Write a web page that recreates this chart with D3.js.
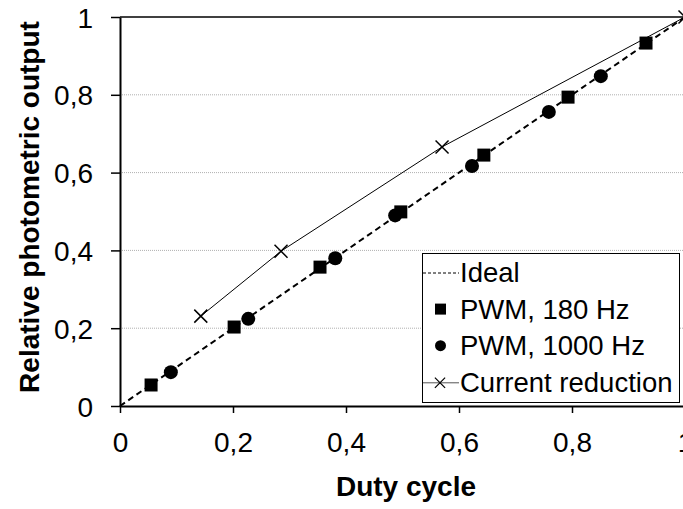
<!DOCTYPE html>
<html>
<head>
<meta charset="utf-8">
<script src="https://cdn.jsdelivr.net/npm/d3@7"></script>
<style>
  body { margin: 0; background: #fff; }
  svg { display: block; font-family: "Liberation Sans", Arial, sans-serif; }
  .axis text { font-size: 28px; fill: #000; }
  .axis path, .axis line { stroke: #000; }
</style>
</head>
<body>
<div id="chart"></div>
<script>
// Data
const tickValues = [0, 0.2, 0.4, 0.6, 0.8, 1];
const tickLabels = ["0", "0,2", "0,4", "0,6", "0,8", "1"];

const idealX = [0, 1];
const idealY = [0, 1];

const pwm180X = [0.055, 0.202, 0.354, 0.497, 0.644, 0.793, 0.931];
const pwm180Y = [0.054, 0.203, 0.357, 0.499, 0.645, 0.794, 0.933];

const pwm1000X = [0.090, 0.227, 0.381, 0.487, 0.623, 0.759, 0.851];
const pwm1000Y = [0.087, 0.224, 0.380, 0.490, 0.617, 0.756, 0.848];

const currentX = [0.143, 0.285, 0.570, 1];
const currentY = [0.231, 0.398, 0.666, 1];

const legendNames = ["Ideal", "PWM, 180 Hz", "PWM, 1000 Hz", "Current reduction"];

// Layout
const width = 683, height = 509;
const margin = {left: 120, top: 17, right: -2, bottom: 103};

const svg = d3.select("#chart").append("svg")
    .attr("width", width)
    .attr("height", height);

const x = d3.scaleLinear().domain([0, 1]).range([margin.left, width - margin.right]);
const y = d3.scaleLinear().domain([0, 1]).range([height - margin.bottom, margin.top]);

const zip = (xs, ys) => xs.map((v, i) => [v, ys[i]]);

// Gridlines
svg.append("g")
    .selectAll("line")
    .data(tickValues.filter(v => v > 0 && v < 1))
    .enter()
    .append("line")
    .attr("x1", x(0)).attr("x2", x(1))
    .attr("y1", d => y(d)).attr("y2", d => y(d))
    .attr("stroke", "#b0b0b0")
    .attr("stroke-width", 1)
    .attr("stroke-dasharray", "1,1");

// Top border at 1
svg.append("line")
    .attr("x1", x(0)).attr("x2", x(1))
    .attr("y1", y(1)).attr("y2", y(1))
    .attr("stroke", "#000")
    .attr("stroke-width", 1.5);

// Axes
const xAxis = d3.axisBottom(x)
    .tickValues(tickValues)
    .tickFormat((d, i) => tickLabels[i])
    .tickSize(7)
    .tickSizeOuter(0)
    .tickPadding(19);

const yAxis = d3.axisLeft(y)
    .tickValues(tickValues)
    .tickFormat((d, i) => tickLabels[i])
    .tickSize(9)
    .tickSizeOuter(0)
    .tickPadding(18);

const gx = svg.append("g")
    .attr("class", "axis")
    .attr("transform", `translate(0, ${y(0)})`)
    .call(xAxis);
gx.select(".domain").attr("stroke-width", 2);
gx.selectAll(".tick line").attr("stroke-width", 1.5);

const gy = svg.append("g")
    .attr("class", "axis")
    .attr("transform", `translate(${x(0)}, 0)`)
    .call(yAxis);
gy.select(".domain").attr("stroke-width", 2);
gy.selectAll(".tick line").attr("stroke-width", 1.5);
gy.selectAll(".tick text").attr("dy", "0.36em");

// Lines
const line = d3.line().x(d => x(d[0])).y(d => y(d[1]));

svg.append("path")
    .datum(zip(idealX, idealY))
    .attr("d", line)
    .attr("fill", "none")
    .attr("stroke", "#000")
    .attr("stroke-width", 2)
    .attr("stroke-dasharray", "6,4");

svg.append("path")
    .datum(zip(currentX, currentY))
    .attr("d", line)
    .attr("fill", "none")
    .attr("stroke", "#000")
    .attr("stroke-width", 1);

// Markers
const timesSym = d3.symbol(d3.symbolTimes, 112);

svg.append("g")
    .selectAll("path")
    .data(zip(currentX, currentY))
    .enter()
    .append("path")
    .attr("d", timesSym)
    .attr("transform", d => `translate(${x(d[0])}, ${y(d[1])})`)
    .attr("fill", "none")
    .attr("stroke", "#000")
    .attr("stroke-width", 1.5);

svg.append("g")
    .selectAll("circle")
    .data(zip(pwm1000X, pwm1000Y))
    .enter()
    .append("circle")
    .attr("cx", d => x(d[0]))
    .attr("cy", d => y(d[1]))
    .attr("r", 7)
    .attr("fill", "#000");

svg.append("g")
    .selectAll("rect")
    .data(zip(pwm180X, pwm180Y))
    .enter()
    .append("rect")
    .attr("x", d => x(d[0]) - 6.5)
    .attr("y", d => y(d[1]) - 6.5)
    .attr("width", 13)
    .attr("height", 13)
    .attr("fill", "#000");

// Legend
const legend = svg.append("g").attr("transform", "translate(422, 253)");
legend.append("rect")
    .attr("x", 0.5).attr("y", 0.5)
    .attr("width", 257).attr("height", 149)
    .attr("fill", "#fff")
    .attr("stroke", "#000")
    .attr("stroke-width", 1);

const rowY = i => 29 + i * 36.6;

legend.selectAll("text")
    .data(legendNames)
    .enter()
    .append("text")
    .attr("x", 38)
    .attr("y", (d, i) => rowY(i))
    .attr("font-size", 27.5)
    .text(d => d);

// Ideal sample
legend.append("line")
    .attr("x1", 1).attr("x2", 37)
    .attr("y1", rowY(0) - 9).attr("y2", rowY(0) - 9)
    .attr("stroke", "#000")
    .attr("stroke-width", 1)
    .attr("stroke-dasharray", "3,2");
// PWM 180 sample
legend.append("rect")
    .attr("x", 13).attr("y", rowY(1) - 15)
    .attr("width", 11).attr("height", 11)
    .attr("fill", "#000");
// PWM 1000 sample
legend.append("circle")
    .attr("cx", 18.5).attr("cy", rowY(2) - 9.5)
    .attr("r", 5.5)
    .attr("fill", "#000");
// Current reduction sample
legend.append("line")
    .attr("x1", 1).attr("x2", 37)
    .attr("y1", rowY(3) - 9).attr("y2", rowY(3) - 9)
    .attr("stroke", "#555")
    .attr("stroke-width", 1);
legend.append("path")
    .attr("d", d3.symbol(d3.symbolTimes, 70))
    .attr("transform", `translate(18, ${rowY(3) - 9})`)
    .attr("fill", "none")
    .attr("stroke", "#000")
    .attr("stroke-width", 1.2);

// Axis titles
svg.append("text")
    .attr("x", 406)
    .attr("y", 496)
    .attr("text-anchor", "middle")
    .attr("font-size", 28)
    .attr("font-weight", "bold")
    .text("Duty cycle");

svg.append("text")
    .attr("transform", "translate(39, 207) rotate(-90)")
    .attr("text-anchor", "middle")
    .attr("font-size", 28)
    .attr("font-weight", "bold")
    .text("Relative photometric output");
</script>
</body>
</html>
